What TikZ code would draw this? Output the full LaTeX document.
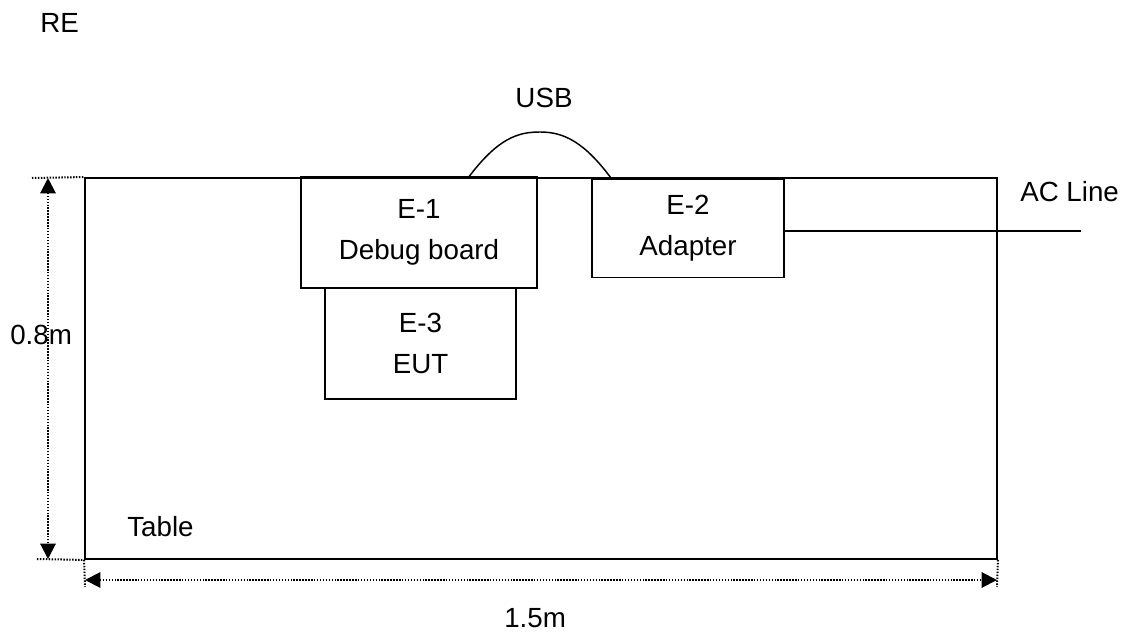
\documentclass[tikz,border=0pt]{standalone}
\usepackage{fontspec}
\setsansfont{Liberation Sans}
\usetikzlibrary{arrows.meta,positioning}

\begin{document}
\begin{tikzpicture}[
    x=0.75pt, y=-0.75pt,
    font=\sffamily\fontsize{20.8}{30.75}\selectfont,
    tableBox/.style={
        rectangle, draw=black, line width=1.4pt, inner sep=0pt,
        minimum width=684pt, minimum height=285.75pt
    },
    equipBox/.style={
        rectangle, draw=black, line width=1.4pt, align=center, inner sep=0pt
    },
    dimLine/.style={
        line width=1.5pt, dash pattern=on 1.1pt off 1.1pt
    },
    dimArrow/.style={
        dimLine, {Triangle[length=11.5pt, width=11.5pt]}-{Triangle[length=11.5pt, width=11.5pt]}
    },
    cableLine/.style={
        line width=1.1pt, draw=black
    },
    plainLabel/.style={
        inner sep=0pt, anchor=base west
    }
]
\useasboundingbox (0,0) rectangle (1125,634);

% Table outline
\node[tableBox] (table) at (541, 368.5) {};

% Equipment on the table
\node[equipBox, minimum width=177pt, minimum height=83.25pt] (debug) at (419, 232.5) {E-1\\Debug board};
\node[equipBox, minimum width=143.25pt, minimum height=83.25pt] (eut) at (420.5, 343.5) {E-3\\EUT};
\node[equipBox, minimum width=144pt, minimum height=73.5pt] (adapter) at (688, 228.5) {E-2\\Adapter};

% USB cable between Debug board and Adapter
\coordinate (usbL) at (468, 178);
\coordinate (usbR) at (611, 178);
\draw[cableLine] (usbL) .. controls (498, 138) and (518, 132) .. (540, 132)
    .. controls (564, 132) and (584, 142) .. (usbR);
\node[inner sep=0pt, anchor=base] (usbText) at (544, 108) {USB};

% AC line leaving the Adapter
\coordinate (acEnd) at (1081, 231);
\draw[line width=0.9pt] (adapter.east |- acEnd) -- (acEnd);
\node[plainLabel] (acText) at (1020, 202) {AC Line};

% Height dimension
\coordinate (hExtTop) at (32, 178);
\coordinate (hExtBot) at (37, 559);
\coordinate (hTop) at (48, 178);
\coordinate (hBot) at (48, 559);
\draw[dimLine] (hExtTop) -- (table.north west);
\draw[dimLine] (hExtBot) -- (table.south west);
\draw[dimArrow] (hTop) -- (hBot);
\node[plainLabel] (heightText) at (10, 345) {0.8m};

% Width dimension
\coordinate (wExtL) at (85, 587);
\coordinate (wExtR) at (997, 587);
\coordinate (wLeft) at (85, 580);
\coordinate (wRight) at (997, 580);
\draw[dimLine] (table.south west) -- (wExtL);
\draw[dimLine] (table.south east) -- (wExtR);
\draw[dimArrow] (wLeft) -- (wRight);
\node[plainLabel] (widthText) at (504, 627) {1.5m};

% Labels
\node[plainLabel] (tableText) at (127, 537) {Table};
\node[plainLabel] (modeText) at (40, 33) {RE};

\end{tikzpicture}
\end{document}
